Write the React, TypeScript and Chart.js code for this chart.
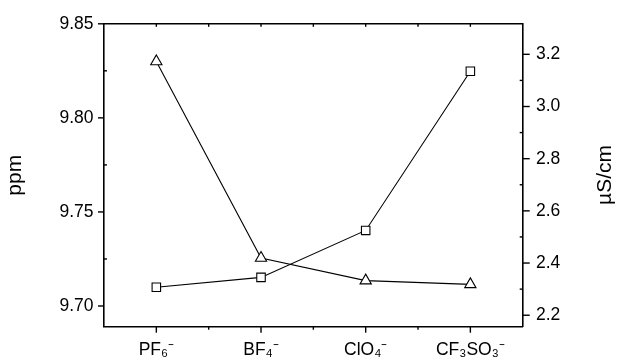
import React, { useEffect, useRef } from 'react';
import { Chart, registerables } from 'chart.js';

Chart.register(...registerables);

const categories = ['PF₆⁻', 'BF₄⁻', 'ClO₄⁻', 'CF₃SO₃⁻'];
const ppmValues = [9.83, 9.7255, 9.7135, 9.7115];
const conductivityValues = [2.307, 2.345, 2.525, 3.135];
const ppmTicks = [9.7, 9.75, 9.8, 9.85];
const ppmMinorTicks = [9.725, 9.775, 9.825];
const condTicks = [2.2, 2.4, 2.6, 2.8, 3.0, 3.2];
const condMinorTicks = [2.3, 2.5, 2.7, 2.9, 3.1];
const leftTitle = 'ppm';
const rightTitle = 'µS/cm';

const FONT = "'Liberation Sans', Arial, sans-serif";

const ticksPlugin = {
  id: 'customTicks',
  afterDraw(chart: any) {
    const { ctx, chartArea } = chart;
    const { left, right, top, bottom } = chartArea;
    const x = chart.scales.x;
    const y = chart.scales.y;
    const y1 = chart.scales.y1;
    ctx.save();
    ctx.strokeStyle = '#000';
    ctx.lineWidth = 1.4;
    const line = (x0: number, y0: number, x1: number, yy1: number) => {
      ctx.beginPath();
      ctx.moveTo(x0, y0);
      ctx.lineTo(x1, yy1);
      ctx.stroke();
    };
    // top border
    line(left, top, right, top);
    // left axis
    ppmTicks.forEach((v) => {
      const p = y.getPixelForValue(v);
      line(left - 6, p, left, p);
    });
    ppmMinorTicks.forEach((v) => {
      const p = y.getPixelForValue(v);
      line(left, p, left + 3, p);
    });
    // right axis
    condTicks.forEach((v) => {
      const p = y1.getPixelForValue(v);
      line(right, p, right + 7, p);
    });
    condMinorTicks.forEach((v) => {
      const p = y1.getPixelForValue(v);
      line(right - 3, p, right, p);
    });
    // bottom & top x ticks
    categories.forEach((_, i) => {
      const p = x.getPixelForValue(i);
      line(p, bottom, p, bottom + 6);
      line(p, top, p, top + 3);
      if (i < categories.length - 1) {
        const m = (x.getPixelForValue(i) + x.getPixelForValue(i + 1)) / 2;
        line(m, bottom, m, bottom + 3);
        line(m, top, m, top + 3);
      }
    });
    // right title
    ctx.fillStyle = '#000';
    ctx.font = `21px ${FONT}`;
    ctx.textAlign = 'center';
    ctx.textBaseline = 'middle';
    ctx.translate(605.5, 175);
    ctx.rotate(-Math.PI / 2);
    ctx.fillText(rightTitle, 0, 0);
    ctx.restore();
  },
};

export default function App() {
  const ref = useRef<HTMLCanvasElement | null>(null);
  useEffect(() => {
    if (!ref.current) return;
    const chart = new Chart(ref.current, {
      type: 'line',
      data: {
        labels: categories,
        datasets: [
          {
            label: leftTitle,
            data: ppmValues,
            yAxisID: 'y',
            borderColor: '#000',
            borderWidth: 1.1,
            backgroundColor: '#fff',
            pointStyle: 'triangle',
            pointRadius: 6.5,
            pointBorderColor: '#000',
            pointBackgroundColor: '#fff',
            pointBorderWidth: 1.1,
            tension: 0,
          },
          {
            label: rightTitle,
            data: conductivityValues,
            yAxisID: 'y1',
            borderColor: '#000',
            borderWidth: 1.1,
            backgroundColor: '#fff',
            pointStyle: 'rect',
            pointRadius: 6,
            pointBorderColor: '#000',
            pointBackgroundColor: '#fff',
            pointBorderWidth: 1.1,
            tension: 0,
          },
        ],
      },
      options: {
        animation: false,
        responsive: true,
        maintainAspectRatio: false,
        layout: { padding: { top: 19, left: 0, right: 0, bottom: 0 } },
        plugins: { legend: { display: false }, tooltip: { enabled: false } },
        scales: {
          x: {
            type: 'category',
            offset: true,
            grid: { display: false, drawTicks: false },
            border: { display: true, color: '#000', width: 1.6 },
            ticks: {
              color: '#000',
              font: { family: FONT, size: 17.5 },
              padding: 12.5,
              maxRotation: 0,
              autoSkip: false,
            },
            afterFit: (s: any) => {
              s.height = 33.3;
            },
          },
          y: {
            type: 'linear',
            position: 'left',
            min: 9.689,
            max: 9.85,
            grid: { display: false, drawTicks: false },
            border: { display: true, color: '#000', width: 1.6 },
            afterBuildTicks: (s: any) => {
              s.ticks = ppmTicks.map((v) => ({ value: v }));
            },
            ticks: {
              color: '#000',
              font: { family: FONT, size: 17.5 },
              padding: 10.5,
              callback: (v: any) => Number(v).toFixed(2),
            },
            title: {
              display: true,
              text: leftTitle,
              color: '#000',
              font: { family: FONT, size: 21 },
              padding: { top: 3, bottom: 0 },
            },
            afterFit: (s: any) => {
              s.width = 104;
            },
          },
          y1: {
            type: 'linear',
            position: 'right',
            min: 2.156,
            max: 3.317,
            grid: { display: false, drawTicks: false },
            border: { display: true, color: '#000', width: 1.6 },
            afterBuildTicks: (s: any) => {
              s.ticks = condTicks.map((v) => ({ value: v }));
            },
            ticks: {
              color: '#000',
              font: { family: FONT, size: 17.5 },
              padding: 13.3,
              callback: (v: any) => Number(v).toFixed(1),
            },
            afterFit: (s: any) => {
              s.width = 96.3;
            },
          },
        },
      },
      plugins: [ticksPlugin],
    });
    return () => chart.destroy();
  }, []);
  return (
    <div style={{ position: 'absolute', left: 0, top: 0, width: 619, height: 360 }}>
      <canvas ref={ref} />
    </div>
  );
}
